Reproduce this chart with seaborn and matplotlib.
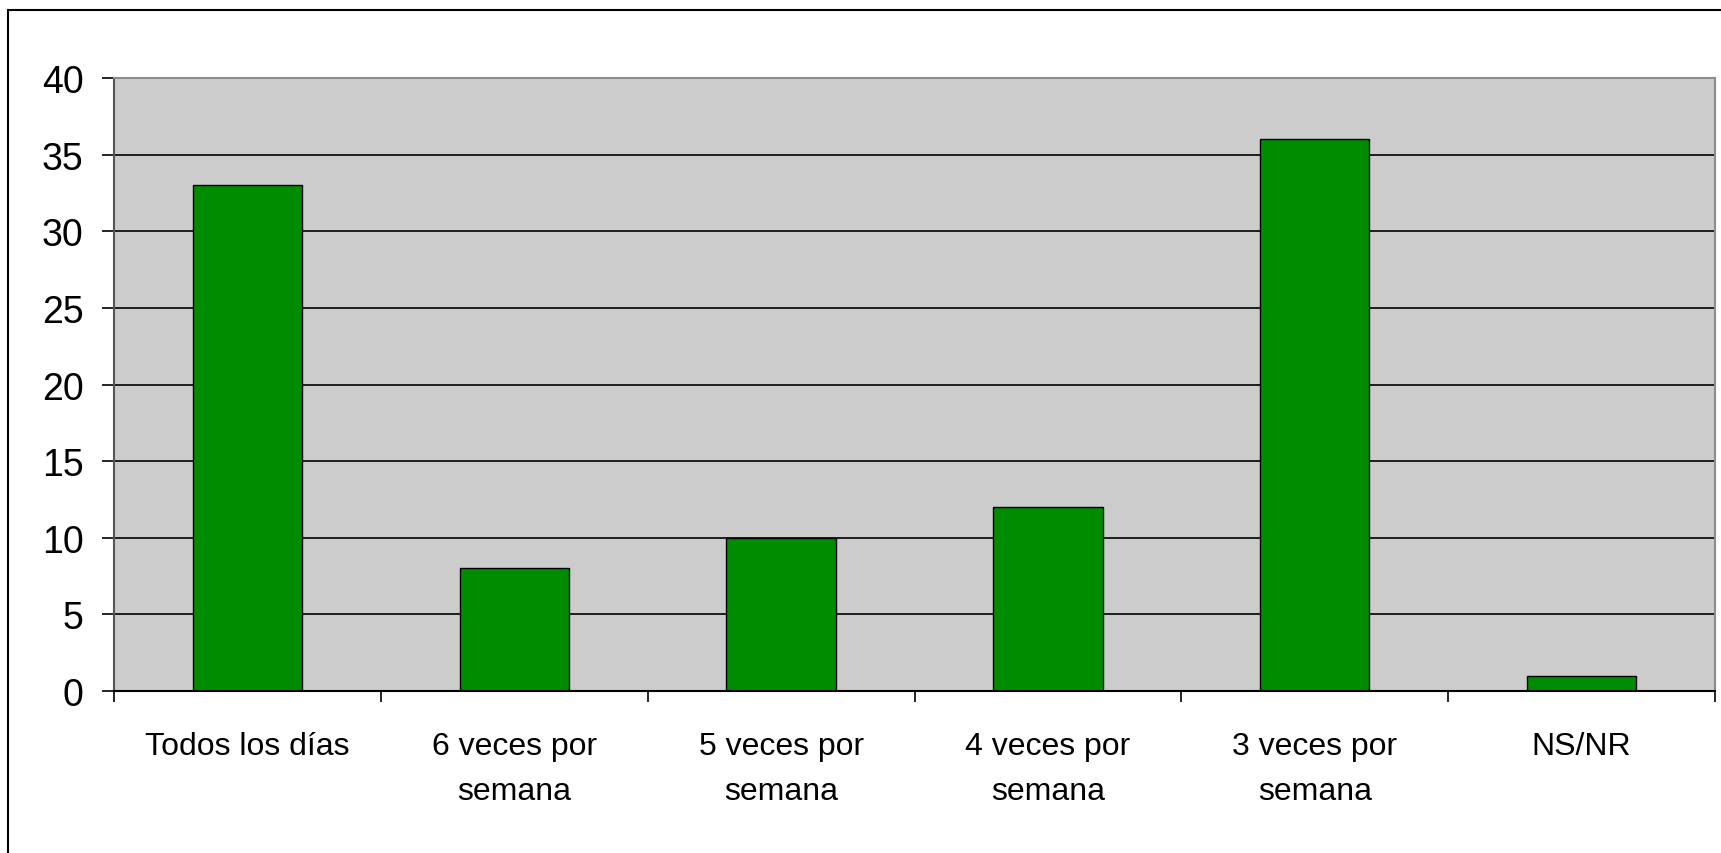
import numpy as np
import pandas as pd
import matplotlib
matplotlib.use("Agg")
import matplotlib.pyplot as plt
from matplotlib.patches import Rectangle
import seaborn as sns

# frequency categories and counts
categories = ["Todos los días", "6 veces por\nsemana", "5 veces por\nsemana",
              "4 veces por\nsemana", "3 veces por\nsemana", "NS/NR"]
values = [33, 8, 10, 12, 36, 1]
y_ticks = [0, 5, 10, 15, 20, 25, 30, 35, 40]

df = pd.DataFrame({"categoria": categories, "valor": values})

sns.set_style("white")
plt.rcParams["font.family"] = ["Liberation Sans", "DejaVu Sans"]

W, H = 1721, 854
fig = plt.figure(figsize=(W / 100, H / 100), dpi=100)
ax = fig.add_axes([114 / W, 1 - 692 / H, (1715 - 114) / W, (692 - 79) / H])
ax.set_facecolor("#CCCCCC")

# gridlines under the bars
ax.set_axisbelow(True)
ax.yaxis.grid(True, color="black", linewidth=1.2)

sns.barplot(data=df, x="categoria", y="valor", color="#008C00", saturation=1,
            width=0.41, edgecolor="black", linewidth=1.0, ax=ax)

ax.set_xlim(-0.5, len(categories) - 0.5)
ax.set_ylim(0, 40)
ax.set_yticks(y_ticks)
ax.set_xlabel("")
ax.set_ylabel("")

# ticks at category edges, labels centred
ax.set_xticks(np.arange(-0.5, len(categories), 1.0), minor=True)
ax.tick_params(axis="x", which="minor", length=8, width=1.2, color="black",
               direction="out", bottom=True)
ax.tick_params(axis="x", which="major", length=0, pad=29, labelsize=23,
               labelcolor="black")
ax.tick_params(axis="y", length=9, width=1.2, color="black", direction="out",
               left=True, pad=13, labelsize=27, labelcolor="black")
for lab in ax.get_xticklabels():
    lab.set_linespacing(1.65)

for side in ["top", "right"]:
    ax.spines[side].set_visible(True)
    ax.spines[side].set_color("#8C8C8C")
    ax.spines[side].set_linewidth(1.5)
ax.spines["left"].set_color("#555555")
ax.spines["left"].set_linewidth(1.5)
ax.spines["bottom"].set_color("black")
ax.spines["bottom"].set_linewidth(1.5)

# outer chart frame
fig.add_artist(Rectangle((8 / W, -0.1), 1.2, 1 - 11 / H + 0.1,
                         transform=fig.transFigure, fill=False,
                         edgecolor="black", linewidth=1.5))

fig.savefig("out.png", dpi=100, facecolor="white")
